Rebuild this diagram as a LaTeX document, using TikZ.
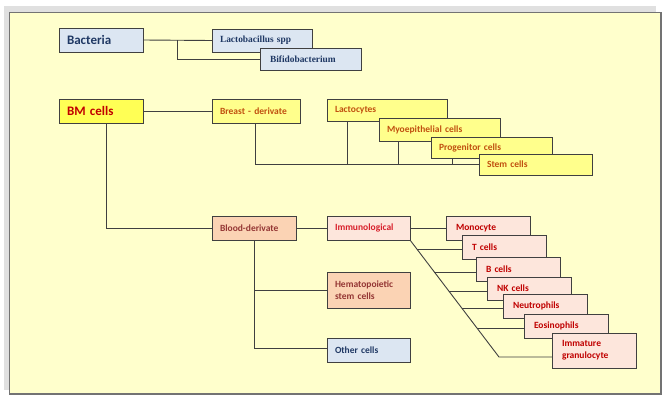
\documentclass[tikz,border=0pt]{standalone}
\usepackage{fontspec}
\setmainfont{Carlito}
\newfontfamily\serifbf{Liberation Serif}
\usetikzlibrary{calc}
\definecolor{bgy}{HTML}{FFFFCC}
\definecolor{bluef}{HTML}{DCE6F2}
\definecolor{bluet}{HTML}{1F3864}
\definecolor{yelA}{HTML}{FFFF55}
\definecolor{yelB}{HTML}{FFFF8C}
\definecolor{orgt}{HTML}{C0500F}
\definecolor{redt}{HTML}{C00000}
\definecolor{peach}{HTML}{FBD3B4}
\definecolor{brownt}{HTML}{943634}
\definecolor{pink}{HTML}{FDE6DC}
\definecolor{redb}{HTML}{D8202C}
\definecolor{linec}{HTML}{404040}
\tikzset{
  box/.style={draw=linec, line width=0.9pt, inner xsep=8pt, inner ysep=0pt, outer sep=0pt,
    align=left, anchor=north west, font=\bfseries\fontsize{9.5}{12}\selectfont},
  conn/.style={draw=linec, line width=0.9pt},
  bluebox/.style={box, fill=bluef, text=bluet},
  serifbox/.style={bluebox, font=\serifbf\bfseries\fontsize{9.4}{11}\selectfont},
  ylbox/.style={box, fill=yelB, text=orgt},
  pkbox/.style={box, fill=pink, text=redt},
  pcbox/.style={box, fill=peach, text=brownt},
  bsz/.code 2 args={\pgfmathsetmacro\mytw{#1-16}\tikzset{text width=\mytw pt, minimum height=#2pt}},
  csz/.code 2 args={\pgfmathsetmacro\mytw{#1-20}\tikzset{inner xsep=10pt, text width=\mytw pt, minimum height=#2pt}},
}
\begin{document}
\begin{tikzpicture}[x=1pt,y=-1pt]
\useasboundingbox (0,0) rectangle (669,402);
\fill[white] (0,0) rectangle (669,402);
\fill[black!12] (4,6) rectangle (656,390);
\fill[bgy] (9,12) rectangle (661,393);
\draw[black!55, line width=1pt] (9,12) rectangle (661,393);
\draw[black!55, line width=2pt] (661,12) -- (661,394) -- (9,394);

% bacteria group
\node[bluebox, font=\bfseries\fontsize{13}{15}\selectfont, bsz={84}{24}] (bact) at (59,28) {Bacteria};
\node[serifbox, bsz={100}{23}] (lacto) at (212,29) {Lactobacillus spp};
\node[serifbox, csz={101}{22}] (bifido) at (260,48) {Bifidobacterium};

% BM cells group
\node[box, fill=yelA, text=redt, font=\bfseries\fontsize{13}{15}\selectfont, bsz={84}{24}] (bm) at (59,99) {BM cells};
\node[ylbox, bsz={88}{24}] (breast) at (212,99) {Breast - derivate};
\node[ylbox, bsz={120}{22}] (lactoc) at (327,99) {Lactocytes};
\node[ylbox, bsz={121}{23}] (myo) at (379,118) {Myoepithelial cells};
\node[ylbox, bsz={121}{21}] (prog) at (431,137) {Progenitor cells};
\node[ylbox, bsz={113}{21}] (stem) at (479,154) {Stem cells};

% blood group
\node[pcbox, bsz={84}{24}] (blood) at (212,216) {Blood-derivate};
\node[pkbox, text=redb, bsz={83}{24}] (immuno) at (327,216) {Immunological};
\node[pcbox, bsz={83}{36}] (hema) at (327,272) {Hematopoietic\\stem cells};
\node[bluebox, bsz={83}{24}] (other) at (327,338) {Other cells};

\node[pkbox, csz={84}{24}] (mono) at (446,216) {Monocyte};
\node[pkbox, csz={84}{24}] (tcell) at (462,235) {T cells};
\node[pkbox, csz={84}{24}] (bcell) at (476,257) {B cells};
\node[pkbox, csz={84}{23}] (nk) at (487,277) {NK cells};
\node[pkbox, csz={84}{24}] (neut) at (503,294) {Neutrophils};
\node[pkbox, csz={84}{24}] (eos) at (524,314) {Eosinophils};
\node[pkbox, csz={84}{35}] (imm) at (552,333) {Immature\\granulocyte};

% connectors
\draw[conn] (bact.east) -- (lacto.west);
\draw[conn] ($(bact.east)!0.5!(lacto.west)$) |- (bifido.west);

\draw[conn] (bm.east) -- (breast.west);
\draw[conn] ([xshift=-1pt]breast.south) |- (stem.west);
\draw[conn] ([xshift=20pt]lactoc.south west) -- ([xshift=20pt]lactoc.south west |- stem.west);
\draw[conn] ([xshift=19pt]myo.south west) -- ([xshift=19pt]myo.south west |- stem.west);
\draw[conn] ([xshift=21pt]prog.south west) -- ([xshift=21pt]prog.south west |- stem.west);

\draw[conn] ([xshift=47pt]bm.south west) |- (blood.west);
\draw[conn] (blood.east) -- (immuno.west);
\draw[conn] (blood.south) |- (hema.west);
\draw[conn] (blood.south) |- ([yshift=2pt]other.west);

\draw[conn] (immuno.east) -- (mono.west);
\coordinate (dend) at ($(immuno.south east)+(89,117)$);
\draw[conn] (immuno.south east) -- (dend) -- (dend -| imm.west);
\coordinate (p1) at ($(immuno.south east)!0.077!(dend)$);
\coordinate (p2) at ($(immuno.south east)!0.2735!(dend)$);
\coordinate (p3) at ($(immuno.south east)!0.436!(dend)$);
\coordinate (p4) at ($(immuno.south east)!0.581!(dend)$);
\coordinate (p5) at ($(immuno.south east)!0.752!(dend)$);
\draw[conn] (p1) -- (p1 -| tcell.west);
\draw[conn] (p2) -- (p2 -| bcell.west);
\draw[conn] (p3) -- (p3 -| nk.west);
\draw[conn] (p4) -- (p4 -| neut.west);
\draw[conn] (p5) -- (p5 -| eos.west);
\end{tikzpicture}
\end{document}
